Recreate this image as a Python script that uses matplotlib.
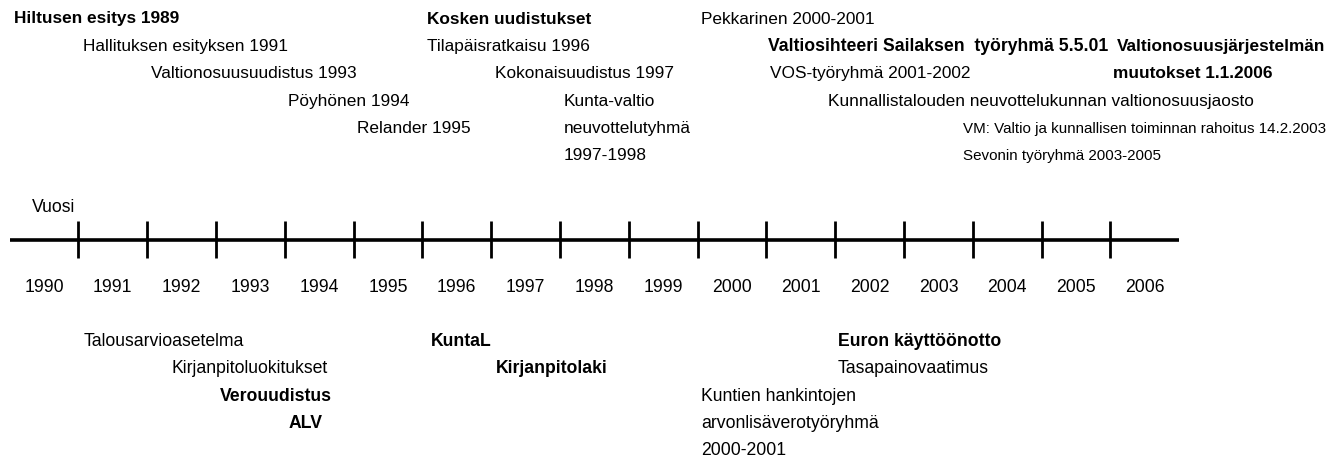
import matplotlib
matplotlib.use("Agg")
import matplotlib.pyplot as plt

# timeline years
years = list(range(1990, 2007))
ticks = [y + 0.5 for y in years[:-1]]

# upper events
upper_labels = [
    "Hiltusen esitys 1989",
    "Hallituksen esityksen 1991",
    "Valtionosuusuudistus 1993",
    "Pöyhönen 1994",
    "Relander 1995",
    "Kosken uudistukset",
    "Tilapäisratkaisu 1996",
    "Kokonaisuudistus 1997",
    "Kunta-valtio",
    "neuvottelutyhmä",
    "1997-1998",
    "Pekkarinen 2000-2001",
    "Valtiosihteeri Sailaksen  työryhmä 5.5.01",
    "VOS-työryhmä 2001-2002",
    "Kunnallistalouden neuvottelukunnan valtionosuusjaosto",
    "VM: Valtio ja kunnallisen toiminnan rahoitus 14.2.2003",
    "Sevonin työryhmä 2003-2005",
    "Valtionosuusjärjestelmän",
    "muutokset 1.1.2006",
]
upper_bold = [True, False, False, False, False, True, False, False, False, False,
              False, False, True, False, False, False, False, True, True]

# lower events
lower_labels = [
    "Talousarvioasetelma",
    "Kirjanpitoluokitukset",
    "Verouudistus",
    "ALV",
    "KuntaL",
    "Kirjanpitolaki",
    "Euron käyttöönotto",
    "Tasapainovaatimus",
    "Kuntien hankintojen",
    "arvonlisäverotyöryhmä",
    "2000-2001",
]
lower_bold = [False, False, True, True, True, True, True, False, False, False, False]

# layout: left edge (in years), row (0 = top) and font size
upper_x = [1989.56, 1990.57, 1991.56, 1993.55, 1994.55, 1995.57, 1995.57, 1996.56,
           1997.55, 1997.55, 1997.55, 1999.55, 2000.52, 2000.55, 2001.39, 2003.36,
           2003.36, 2005.60, 2005.54]
upper_row = [0, 1, 2, 3, 4, 0, 1, 2, 3, 4, 5, 0, 1, 2, 3, 4, 5, 1, 2]
upper_size = [12.4] * 12 + [12.7, 12.4, 12.4, 10.9, 10.9, 12.4, 12.4]
lower_x = [1990.57, 1991.85, 1992.56, 1993.56, 1995.62, 1996.57, 2001.54, 2001.54,
           1999.55, 1999.55, 1999.55]
lower_row = [0, 1, 2, 3, 0, 1, 0, 1, 2, 3, 4]

normal = ["Liberation Sans", "DejaVu Sans"]
narrow = ["Liberation Sans Narrow", "Liberation Sans", "DejaVu Sans"]

fig = plt.figure(figsize=(13.29, 4.57), dpi=100)
ax = fig.add_axes([0, 0, 1, 1])
ax.set_xlim(1990 - 44 / 68.8, 1990 + 1285 / 68.8)
ax.set_ylim(457, 0)
ax.axis("off")

line_y = 240
ax.plot([years[0] - 0.5, years[-1] + 0.5], [line_y, line_y], color="black", lw=2.6,
        solid_capstyle="butt")
for t in ticks:
    ax.plot([t, t], [221, 258], color="black", lw=2.0, solid_capstyle="butt")

for y in years:
    ax.text(y, 287.5, str(y), ha="center", va="center", fontsize=12.7, family=narrow)
ax.text(1989.83, 207.5, "Vuosi", ha="left", va="center", fontsize=12.7, family=narrow)

for lab, b, x, r, s in zip(upper_labels, upper_bold, upper_x, upper_row, upper_size):
    ax.text(x, 19 + 27.4 * r, lab, ha="left", va="center", fontsize=s,
            fontweight="bold" if b else "normal", family=normal)

for lab, b, x, r in zip(lower_labels, lower_bold, lower_x, lower_row):
    ax.text(x, 341.5 + 27.3 * r, lab, ha="left", va="center", fontsize=12.7,
            fontweight="bold" if b else "normal", family=narrow)

fig.savefig("out.png", dpi=100, facecolor="white")
